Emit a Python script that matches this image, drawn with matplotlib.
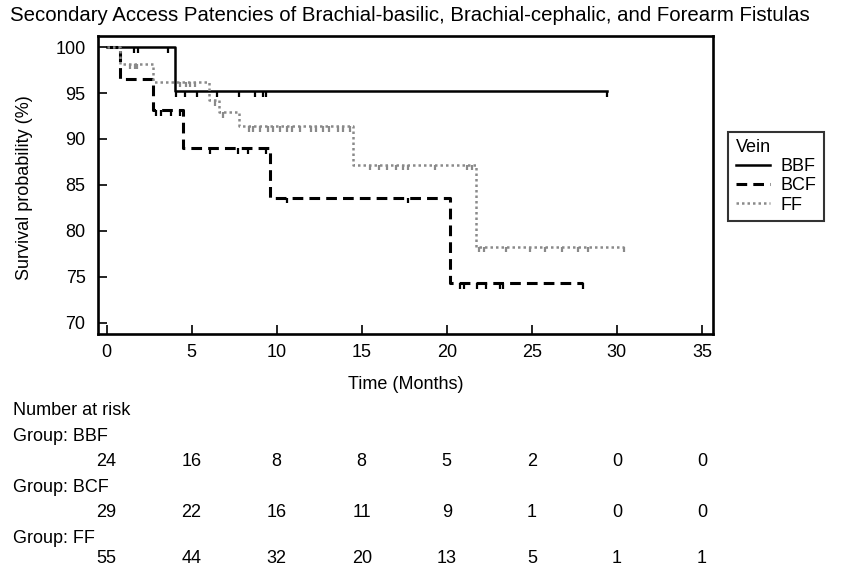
import matplotlib
matplotlib.use("Agg")
import matplotlib.pyplot as plt
from matplotlib.transforms import blended_transform_factory

plt.rcParams['font.family'] = ['Liberation Sans', 'DejaVu Sans']

# --- données ---
groups = ['BBF', 'BCF', 'FF']

# temps des sauts (mois) et survie (%) après chaque saut, puis fin de suivi
bbf_t = [0, 4.0]
bbf_s = [100, 95.2]
bbf_end = 29.4
bbf_cens_t = [1.6, 1.85, 3.6, 4.1, 4.6, 5.3, 6.5, 7.8, 8.7, 9.2, 9.4, 29.4]

bcf_t = [0, 0.8, 2.75, 4.5, 9.6, 20.2]
bcf_s = [100, 96.55, 93.1, 89.0, 83.6, 74.3]
bcf_end = 28.0
bcf_cens_t = [2.9, 3.2, 3.8, 4.3, 6.1, 7.7, 8.3, 9.4, 10.6, 17.7,
              20.8, 21.0, 21.8, 22.3, 23.1, 23.3, 28.0]

ff_t = [0, 0.8, 2.75, 6.0, 6.6, 7.8, 14.5, 21.7]
ff_s = [100, 98.2, 96.2, 94.2, 92.9, 91.4, 87.2, 78.3]
ff_end = 30.4
ff_cens_t = [1.4, 1.65, 1.8, 4.3, 4.7, 4.9, 5.2, 6.4, 6.85,
             8.4, 8.6, 9.0, 9.5, 9.8, 10.2, 10.6, 10.9, 11.4, 12.0, 12.3, 12.7,
             13.1, 13.6, 13.9, 14.3, 15.5, 16.0, 16.5, 17.0, 17.4, 17.7, 19.3,
             21.2, 21.5, 21.9, 22.2, 23.5, 24.9, 25.8, 26.8, 27.7, 28.3, 30.4]

risk_times = [0, 5, 10, 15, 20, 25, 30, 35]
risk_bbf = [24, 16, 8, 8, 5, 2, 0, 0]
risk_bcf = [29, 22, 16, 11, 9, 1, 0, 0]
risk_ff = [55, 44, 32, 20, 13, 5, 1, 1]

FS = 13


def surv_at(t, times, surv):
    """Valeur de la courbe en escalier au temps t."""
    val = surv[0]
    for ti, si in zip(times, surv):
        if t >= ti:
            val = si
    return val


fig = plt.figure(figsize=(8.42, 5.66), dpi=100)
ax = fig.add_axes([0.1164, 0.410, 0.7304, 0.5264])

styles = [
    ('BBF', bbf_t, bbf_s, bbf_end, bbf_cens_t, dict(color='black', linestyle='-', linewidth=1.8)),
    ('BCF', bcf_t, bcf_s, bcf_end, bcf_cens_t, dict(color='black', linestyle=(0, (3.5, 2)), linewidth=2.2)),
    ('FF', ff_t, ff_s, ff_end, ff_cens_t, dict(color='#8a8a8a', linestyle=(0, (1, 1.2)), linewidth=1.8)),
]

for label, t, s, end, cens, st in styles:
    ax.step(t + [end], s + [s[-1]], where='post', label=label, **st)
    cens_s = [surv_at(c, t, s) for c in cens]
    ax.vlines(cens, [v - 0.6 for v in cens_s], cens_s, color=st['color'], linewidth=1.6)

ax.set_xlim(-0.5, 35.65)
ax.set_ylim(68.8, 101.2)
ax.set_xticks(risk_times)
ax.set_yticks([70, 75, 80, 85, 90, 95, 100])
ax.tick_params(direction='in', length=6.5, width=1.2, labelsize=FS, pad=7, colors='black')
ax.tick_params(axis='y', pad=9)
for sp in ax.spines.values():
    sp.set_linewidth(1.9)
ax.set_xlabel('Time (Months)', fontsize=FS)
ax.xaxis.set_label_coords(0.5, -0.14)
ax.set_ylabel('Survival probability (%)', fontsize=FS)
ax.yaxis.set_label_coords(-0.105, 0.49)

leg = ax.legend(title='Vein', loc='upper left', bbox_to_anchor=(0.865, 0.767),
                bbox_transform=fig.transFigure, fontsize=FS, title_fontsize=FS,
                frameon=True, fancybox=False, edgecolor='black', handlelength=1.9,
                handletextpad=0.6, borderpad=0.4, labelspacing=0.12, borderaxespad=0,
                alignment='left')
leg.get_frame().set_linewidth(1.5)

fig.text(0.012, 0.973, 'Secondary Access Patencies of Brachial-basilic, Brachial-cephalic, and Forearm Fistulas',
         fontsize=14.7, ha='left', va='center')

# tableau des effectifs à risque
trans = blended_transform_factory(ax.transData, fig.transFigure)
fig.text(0.015, 0.2756, 'Number at risk', fontsize=FS, va='center')
rows = [('Group: BBF', risk_bbf, 0.2288, 0.1855),
        ('Group: BCF', risk_bcf, 0.1387, 0.0954),
        ('Group: FF', risk_ff, 0.0486, 0.014)]
for name, vals, y_lab, y_num in rows:
    fig.text(0.015, y_lab, name, fontsize=FS, va='center')
    for x, v in zip(risk_times, vals):
        ax.text(x, y_num, str(v), transform=trans, fontsize=FS, ha='center', va='center')

fig.savefig('out.png', dpi=100)
